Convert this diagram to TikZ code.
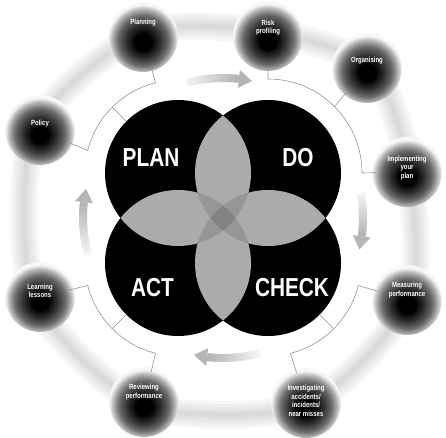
\documentclass[tikz,border=0pt]{standalone}
\usepackage{fontspec}
\newfontfamily\pdcafont{Liberation Sans}[FakeStretch=0.8]
\usepackage{tikz}
\usetikzlibrary{calc}
\pgfdeclareradialshading{orb}{\pgfpoint{0bp}{-4bp}}{color(0bp)=(black); color(6bp)=(black); color(13bp)=(black!78); color(18bp)=(black!58); color(22bp)=(black!30); color(25bp)=(black!3); color(50bp)=(white)}
\definecolor{lensgray}{HTML}{ABABAB}
\tikzset{
  phase/.style={circle, fill=black, minimum size=146pt, inner sep=0pt},
  phasetext/.style={text=white, font=\pdcafont\bfseries\fontsize{26}{26}\selectfont},
  orb/.style={circle, shading=orb, minimum size=70pt, inner sep=0pt, outer sep=-4pt},
  orbtext/.style={text=white, align=center, inner sep=0pt, font=\pdcafont\bfseries\fontsize{7.5}{8.5}\selectfont},
  bracket/.style={draw=gray!85, line width=0.6pt},
  tube/.style={draw=black, draw opacity=.03, line join=round}
}
% gray cycle arrow, clockwise from #1 to #2 (degrees round the hub)
\newcommand{\cyclearrow}[2]{%
  \foreach \k in {0,...,11}{
    \pgfmathsetmacro{\sa}{#1+(#2+5.5-#1)*\k/12}
    \pgfmathsetmacro{\ea}{#1+(#2+5.5-#1)*min(\k+1.3,12)/12}
    \pgfmathsetmacro{\sh}{10+48*\k/11}
    \draw[line width=8pt, draw=gray!\sh] ([shift={(\sa:140)}]hub) arc[start angle=\sa, end angle=\ea, radius=140];
  }
  \fill[gray!58] ([shift={(#2:140)}]hub) -- ([shift={(#2+5.5:149)}]hub) -- ([shift={(#2+5.5:131)}]hub) -- cycle;
}

\begin{document}
\begin{tikzpicture}[x=1pt, y=1pt]
  \useasboundingbox (0,0) rectangle (446,437);
  \coordinate (hub) at (223,219);

  % soft tube behind the steps
  \foreach \w in {28,22,16,10,5}
    \draw[tube, line width=\w pt] plot[smooth cycle, tension=.45] coordinates {(143,404) (268,405) (372,369) (409,265) (409,137) (306,32) (144,32) (34,140) (34,307)};

  % cycle arrows
  \cyclearrow{105}{78}
  \cyclearrow{10}{-13}
  \cyclearrow{-75}{-102}
  \cyclearrow{195}{168}

  % the four phases
  \node[phase] (plan) at (178,264) {};
  \node[phase] (do) at (268,264) {};
  \node[phase] (act) at (178,174) {};
  \node[phase] (check) at (268,174) {};
  \begin{scope}
    \clip (plan.center) circle[radius=73];
    \fill[lensgray] (do.center) circle[radius=73];
    \fill[lensgray] (act.center) circle[radius=73];
  \end{scope}
  \begin{scope}
    \clip (check.center) circle[radius=73];
    \fill[lensgray] (do.center) circle[radius=73];
    \fill[lensgray] (act.center) circle[radius=73];
  \end{scope}
  \begin{scope}
    \clip (plan.center) circle[radius=73];
    \fill[black, opacity=.12] (check.center) circle[radius=73];
  \end{scope}
  \begin{scope}
    \clip (do.center) circle[radius=73];
    \fill[black, opacity=.12] (act.center) circle[radius=73];
  \end{scope}
  \node[phasetext] (plan-t) at (151,279.5) {PLAN};
  \node[phasetext] (do-t) at (298,279.5) {DO};
  \node[phasetext] (act-t) at (152.5,149.5) {ACT};
  \node[phasetext] (check-t) at (292,149.5) {CHECK};

  % steps
  \node[orb] (planning) at (143,400) {};
  \node[orb] (risk) at (268,401) {};
  \node[orb] (organising) at (367,369) {};
  \node[orb] (implementing) at (407,265) {};
  \node[orb] (measuring) at (407,137) {};
  \node[orb] (investigating) at (306,34) {};
  \node[orb] (reviewing) at (144,35) {};
  \node[orb] (learning) at (40,140) {};
  \node[orb] (policy) at (40,307) {};
  \node[orbtext] (planning-t) at ([yshift=14]planning.center) {Planning};
  \node[orbtext] (risk-t) at ([yshift=8.5]risk.center) {Risk\\profiling};
  \node[orbtext] (organising-t) at ([yshift=7]organising.center) {Organising};
  \node[orbtext] (implementing-t) at ([yshift=4]implementing.center) {Implementing\\your\\plan};
  \node[orbtext] (measuring-t) at ([yshift=10]measuring.center) {Measuring\\performance};
  \node[orbtext] (investigating-t) at ([yshift=2]investigating.center) {Investigating\\accidents/\\incidents/\\near misses};
  \node[orbtext] (reviewing-t) at ([yshift=10]reviewing.center) {Reviewing\\performance};
  \node[orbtext] (learning-t) at ([yshift=6]learning.center) {Learning\\lessons};
  \node[orbtext] (policy-t) at ([yshift=6]policy.center) {Policy};

  % brackets
  \coordinate (plan-a) at ([shift={(166:93)}]plan.center);
  \coordinate (plan-m) at ([shift={(135:93)}]plan.center);
  \coordinate (do-a) at ([shift={(90:94)}]do.center);
  \coordinate (do-m) at ([shift={(45:94)}]do.center);
  \coordinate (check-a) at ([shift={(-14:93)}]check.center);
  \coordinate (check-m) at ([shift={(-45:93)}]check.center);
  \coordinate (act-a) at ([shift={(194:93)}]act.center);
  \coordinate (act-m) at ([shift={(225:93)}]act.center);
  \draw[bracket] (policy) -- (plan-a) arc[start angle=166, end angle=104, radius=93] -- (planning);
  \draw[bracket] (plan-m) -- (plan);
  \draw[bracket] (risk) -- (do-a) arc[start angle=90, end angle=0, radius=94] -- (implementing);
  \draw[bracket] (do-m) -- (organising);
  \draw[bracket] (measuring) -- (check-a) arc[start angle=-14, end angle=-76, radius=93] -- (investigating);
  \draw[bracket] (check-m) -- (check);
  \draw[bracket] (learning) -- (act-a) arc[start angle=194, end angle=256, radius=93] -- (reviewing);
  \draw[bracket] (act-m) -- (act);
\end{tikzpicture}
\end{document}
